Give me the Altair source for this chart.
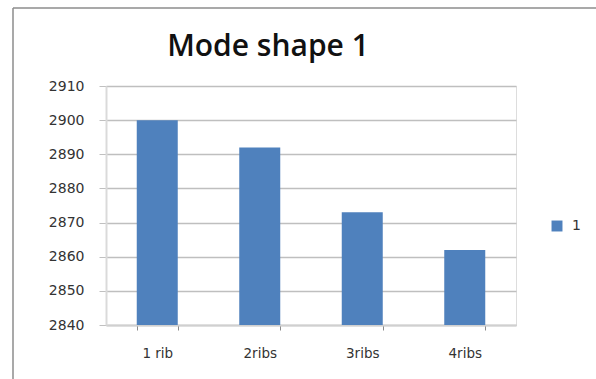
import altair as alt
import pandas as pd

categories = ["1 rib", "2ribs", "3ribs", "4ribs"]
values = [2900, 2892, 2873, 2862]
series = ["1", "1", "1", "1"]
y_ticks = [2840, 2850, 2860, 2870, 2880, 2890, 2900, 2910]
y_min, y_max = 2840, 2910
title_text = "Mode shape 1"

df = pd.DataFrame({"cat": categories, "val": values, "series": series})

W, H = 410, 239
L, T = 106, 86
FONT = "DejaVu Sans"

bars = alt.Chart(df).mark_bar().encode(
    x=alt.X(
        "cat:N",
        sort=categories,
        scale=alt.Scale(paddingInner=0.6, paddingOuter=0.3),
        axis=alt.Axis(
            title=None, labelAngle=0, tickBand="extent", tickSize=5,
            tickColor="#8a8a8a", domainColor="#d0d0d0", domainWidth=2,
            labelPadding=16, labelFont=FONT, labelFontSize=13.5,
            labelColor="#333333", labelBaseline="top", grid=False,
        ),
    ),
    y=alt.Y(
        "val:Q",
        scale=alt.Scale(domain=[y_min, y_max], zero=False, nice=False),
        axis=alt.Axis(
            title=None, values=y_ticks, format="d", tickSize=7,
            tickColor="#c0c0c0", domainColor="#dadada", domainWidth=2,
            gridColor="#bfbfbf", gridWidth=1.5, labelPadding=15,
            labelFont=FONT, labelFontSize=14, labelColor="#333333",
        ),
    ),
    y2=alt.Y2(datum=y_min),
    color=alt.Color(
        "series:N",
        scale=alt.Scale(range=["#4F81BD"]),
        legend=alt.Legend(
            title=None, orient="none", legendX=444, legendY=133,
            symbolType="square", symbolSize=120, symbolStrokeWidth=0,
            labelFont=FONT, labelFontSize=14, labelColor="#333333",
            padding=0, labelOffset=8,
        ),
    ),
)

frame_left = alt.Chart(pd.DataFrame({"a": [0]})).mark_rule(color="#8c8c8c", strokeWidth=1.5).encode(
    x=alt.value(13 - L), y=alt.value(8 - T), y2=alt.value(400 - T)
)
frame_top = alt.Chart(pd.DataFrame({"a": [0]})).mark_rule(color="#8c8c8c", strokeWidth=1.5).encode(
    x=alt.value(13 - L), x2=alt.value(620 - L), y=alt.value(8 - T)
)
title = alt.Chart(pd.DataFrame({"t": [title_text]})).mark_text(
    font="Open Sans", fontSize=30, fontWeight=600, color="#111111",
    align="center", baseline="alphabetic",
).encode(text="t:N", x=alt.value(268 - L), y=alt.value(56 - T))

chart = alt.layer(bars, frame_left, frame_top, title).properties(
    width=W,
    height=H,
    padding={"left": L, "top": T, "right": 596 - L - W, "bottom": 379 - T - H},
    autosize=alt.AutoSizeParams(type="none"),
).configure_view(stroke=None).configure(background="white")

chart.save("out.html", embed_options={"renderer": "svg", "actions": False})
